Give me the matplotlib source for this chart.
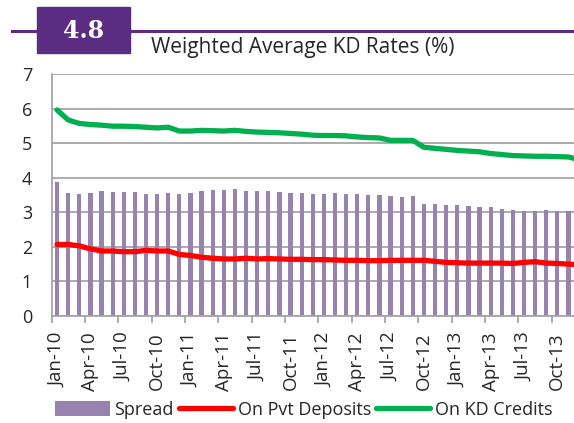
import matplotlib
matplotlib.use("Agg")
import matplotlib.pyplot as plt
from matplotlib.patches import Rectangle
from matplotlib.lines import Line2D
import pandas as pd

# Monthly series, Jan-10 onwards (%)
months = pd.date_range("2010-01-01", periods=48, freq="MS").strftime("%b-%y").tolist()

spread = [3.87, 3.57, 3.53, 3.57, 3.61, 3.58, 3.60, 3.58, 3.54, 3.54, 3.55, 3.54,
          3.57, 3.63, 3.65, 3.65, 3.68, 3.63, 3.63, 3.61, 3.58, 3.57, 3.55, 3.54,
          3.54, 3.56, 3.54, 3.53, 3.51, 3.50, 3.46, 3.45, 3.47, 3.23, 3.23, 3.22,
          3.22, 3.18, 3.16, 3.14, 3.09, 3.08, 3.05, 3.03, 3.06, 3.05, 3.05, 3.04]

pvt_deposits = [2.07, 2.07, 2.03, 1.94, 1.88, 1.88, 1.86, 1.86, 1.90, 1.88, 1.88, 1.78,
                1.75, 1.70, 1.67, 1.65, 1.65, 1.67, 1.65, 1.66, 1.65, 1.64, 1.64, 1.63,
                1.63, 1.62, 1.61, 1.61, 1.60, 1.60, 1.61, 1.61, 1.61, 1.61, 1.58, 1.55,
                1.54, 1.53, 1.53, 1.53, 1.53, 1.52, 1.55, 1.57, 1.53, 1.52, 1.50, 1.48]

kd_credits = [5.96, 5.67, 5.57, 5.54, 5.52, 5.49, 5.49, 5.48, 5.46, 5.44, 5.46, 5.35,
              5.35, 5.37, 5.36, 5.35, 5.37, 5.34, 5.32, 5.31, 5.30, 5.28, 5.26, 5.23,
              5.22, 5.22, 5.21, 5.18, 5.16, 5.15, 5.08, 5.08, 5.08, 4.88, 4.85, 4.82,
              4.79, 4.77, 4.75, 4.70, 4.67, 4.64, 4.63, 4.62, 4.62, 4.61, 4.60, 4.52]

tick_labels = months[::3]

BAR = "#9782B0"
RED = "#FF0000"
GREEN = "#00B050"
GRID = "#A6A6A6"
PURPLE = "#5B2D82"
TEXT = "#262626"

plt.rcParams["font.family"] = ["Open Sans", "DejaVu Sans"]

fig = plt.figure(figsize=(5.74, 4.23), dpi=100)

# Header band with number badge
fig.add_artist(Line2D([12 / 574, 1.0], [1 - 31 / 423] * 2, color=PURPLE, lw=2.2,
                      transform=fig.transFigure))
fig.add_artist(Rectangle((37 / 574, 1 - 53 / 423), 93 / 574, 46 / 423,
                         transform=fig.transFigure, color=PURPLE, zorder=3))
fig.text(83.5 / 574, 1 - 31 / 423, "4.8", color="white", fontsize=17,
         fontweight="bold", family=["DejaVu Serif"], ha="center", va="center", zorder=4)
fig.text(151 / 574, 1 - 53.5 / 423, "Weighted Average KD Rates (%)", color=TEXT,
         fontsize=15, ha="left", va="baseline")

ax = fig.add_axes([51.5 / 574, 1 - 316 / 423, (574 - 51.5) / 574, (316 - 74) / 423])

x = list(range(len(months)))
bars = ax.bar(x, spread, width=0.38, color=BAR, zorder=2)
red_line, = ax.plot(x, pvt_deposits, color=RED, lw=3.8, zorder=3, solid_capstyle="round")
green_line, = ax.plot(x, kd_credits, color=GREEN, lw=3.8, zorder=3, solid_capstyle="round")

ax.set_xlim(-0.5, 46.5)
ax.set_ylim(0, 7)
ax.set_yticks(range(0, 8))
ax.yaxis.grid(True, color=GRID, lw=1.3, zorder=0)
ax.set_axisbelow(True)

ax.set_xticks(x[::3])
ax.set_xticklabels(tick_labels, rotation=90, fontsize=13.5, color=TEXT)
ax.set_xticks([i - 0.5 for i in range(0, 47, 3)], minor=True)
ax.tick_params(axis="x", which="major", length=0, pad=12)
ax.tick_params(axis="x", which="minor", length=5, width=1.3, color=GRID)
ax.tick_params(axis="y", length=0, labelsize=13, labelcolor=TEXT, pad=14)

for s in ["top", "right"]:
    ax.spines[s].set_visible(False)
for s in ["left", "bottom"]:
    ax.spines[s].set_color(GRID)
    ax.spines[s].set_linewidth(1.3)

leg = fig.legend([bars, red_line, green_line],
                 ["Spread", "On Pvt Deposits", "On KD Credits"],
                 loc="center", bbox_to_anchor=(304 / 574, 1 - 410 / 423), ncol=3,
                 frameon=False, fontsize=13, handlelength=3.0, handletextpad=0.25,
                 columnspacing=0.3, handleheight=0.9)
for t in leg.get_texts():
    t.set_color(TEXT)

fig.savefig("out.png", dpi=100)
